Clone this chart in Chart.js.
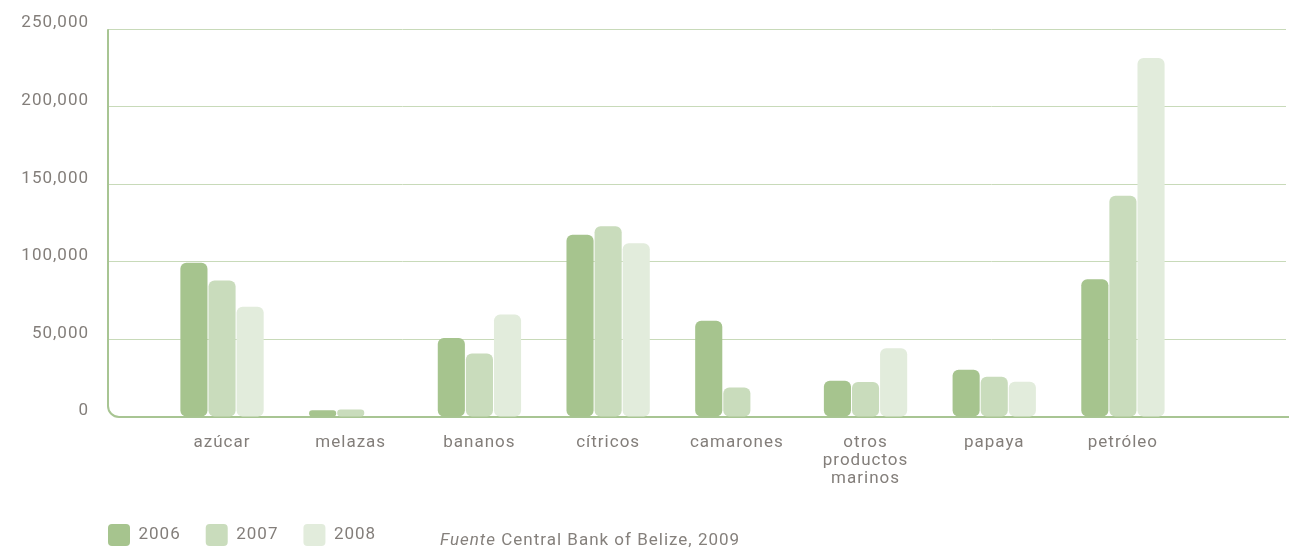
<!DOCTYPE html>
<html>
<head>
<meta charset="utf-8">
<script src="https://cdn.jsdelivr.net/npm/chart.js@4/dist/chart.umd.min.js"></script>
<style>
  html, body { margin: 0; padding: 0; background: #ffffff; }
  #wrap { position: relative; width: 1306px; height: 551px; }
  #source { position: absolute; left: 440px; top: 529px; font-family: Roboto, "DejaVu Sans", sans-serif;
            font-size: 17px; letter-spacing: 1px; color: #85807c; white-space: nowrap; line-height: 20px; }
</style>
</head>
<body>
<div id="wrap">
  <canvas id="c" width="1306" height="551"></canvas>
  <div id="source"><i>Fuente</i> Central Bank of Belize, 2009</div>
</div>
<script>
// ---- data ----
const categories = ['azúcar', 'melazas', 'bananos', 'cítricos', 'camarones', ['otros', 'productos', 'marinos'], 'papaya', 'petróleo'];
const seriesNames = ['2006', '2007', '2008'];
const values2006 = [99500, 4300, 51000, 117500, 62000, 23300, 30500, 88800];
const values2007 = [88000, 4800, 41000, 123000, 19000, 22500, 26000, 142700];
const values2008 = [71000, null, 66000, 112000, null, 44300, 22700, 231500];
const yTickValues = [0, 50000, 100000, 150000, 200000, 250000];

// ---- styles ----
const colors = ['#a6c48e', '#c9dcbc', '#e2ecdc'];
const textColor = '#837e7a';
const gridColor = '#c8dab9';
const axisColor = '#a8c593';
const fontFamily = 'Roboto, "DejaVu Sans", sans-serif';
const legendPad = 25;

const toPoints = arr => arr.map((v, i) => ({ x: i, y: v }));
const seriesValues = [values2006, values2007, values2008];

const spacingPlugin = {
  id: 'spacing',
  beforeLayout(chart) { chart.ctx.letterSpacing = '1px'; },
  beforeDraw(chart) { chart.ctx.letterSpacing = '1px'; }
};

const layoutPlugin = {
  id: 'legendShift',
  afterLayout(chart) {
    const lg = chart.legend;
    if (lg) {
      const dx = 108 - legendPad;
      lg.left += dx; lg.right += dx; lg.top += 5; lg.bottom += 5;
    }
  }
};

const axisPlugin = {
  id: 'axisLines',
  beforeDatasetsDraw(chart) {
    const { ctx, chartArea } = chart;
    const r = 11;
    ctx.save();
    ctx.strokeStyle = axisColor;
    ctx.lineWidth = 2;
    ctx.beginPath();
    ctx.moveTo(chartArea.left, chartArea.top);
    ctx.lineTo(chartArea.left, chartArea.bottom - r);
    ctx.arcTo(chartArea.left, chartArea.bottom, chartArea.left + r, chartArea.bottom, r);
    ctx.lineTo(chartArea.right + 3, chartArea.bottom);
    ctx.stroke();
    ctx.restore();
  }
};

new Chart(document.getElementById('c'), {
  type: 'bar',
  data: {
    datasets: seriesNames.map((name, k) => ({
      label: name,
      data: toPoints(seriesValues[k]),
      backgroundColor: colors[k],
      borderWidth: 0,
      borderRadius: 6,
      borderSkipped: false,
      categoryPercentage: 0.655,
      barPercentage: 0.965
    }))
  },
  options: {
    responsive: false,
    devicePixelRatio: 1,
    animation: false,
    layout: { padding: { top: 26, right: 20, left: 0, bottom: 0 } },
    plugins: {
      tooltip: { enabled: false },
      legend: {
        position: 'bottom',
        align: 'start',
        labels: {
          boxWidth: 22,
          boxHeight: 22,
          useBorderRadius: true,
          borderRadius: 4,
          padding: legendPad,
          color: textColor,
          font: { family: fontFamily, size: 17 }
        }
      }
    },
    scales: {
      x: {
        type: 'linear',
        min: -0.886,
        max: 8.267,
        offset: false,
        grid: { display: false, drawTicks: false },
        border: { display: false },
        afterBuildTicks(scale) { scale.ticks = categories.map((_, i) => ({ value: i })); },
        afterFit(scale) { scale.height = 77; },
        ticks: {
          autoSkip: false,
          maxRotation: 0,
          padding: 17,
          color: textColor,
          font: { family: fontFamily, size: 17, lineHeight: 1.06 },
          callback: (v) => categories[v]
        }
      },
      y: {
        min: 0,
        max: 250000,
        grid: {
          drawTicks: false,
          color: (c) => (c.tick && c.tick.value === 0 ? 'rgba(0,0,0,0)' : gridColor),
          lineWidth: 1
        },
        border: { display: false },
        afterBuildTicks(scale) { scale.ticks = yTickValues.map(v => ({ value: v })); },
        afterFit(scale) { scale.width = 108; },
        ticks: {
          padding: 19,
          labelOffset: -6,
          color: textColor,
          font: { family: fontFamily, size: 17 },
          callback: (v) => v.toLocaleString('en-US')
        }
      }
    }
  },
  plugins: [spacingPlugin, layoutPlugin, axisPlugin]
});
</script>
</body>
</html>
